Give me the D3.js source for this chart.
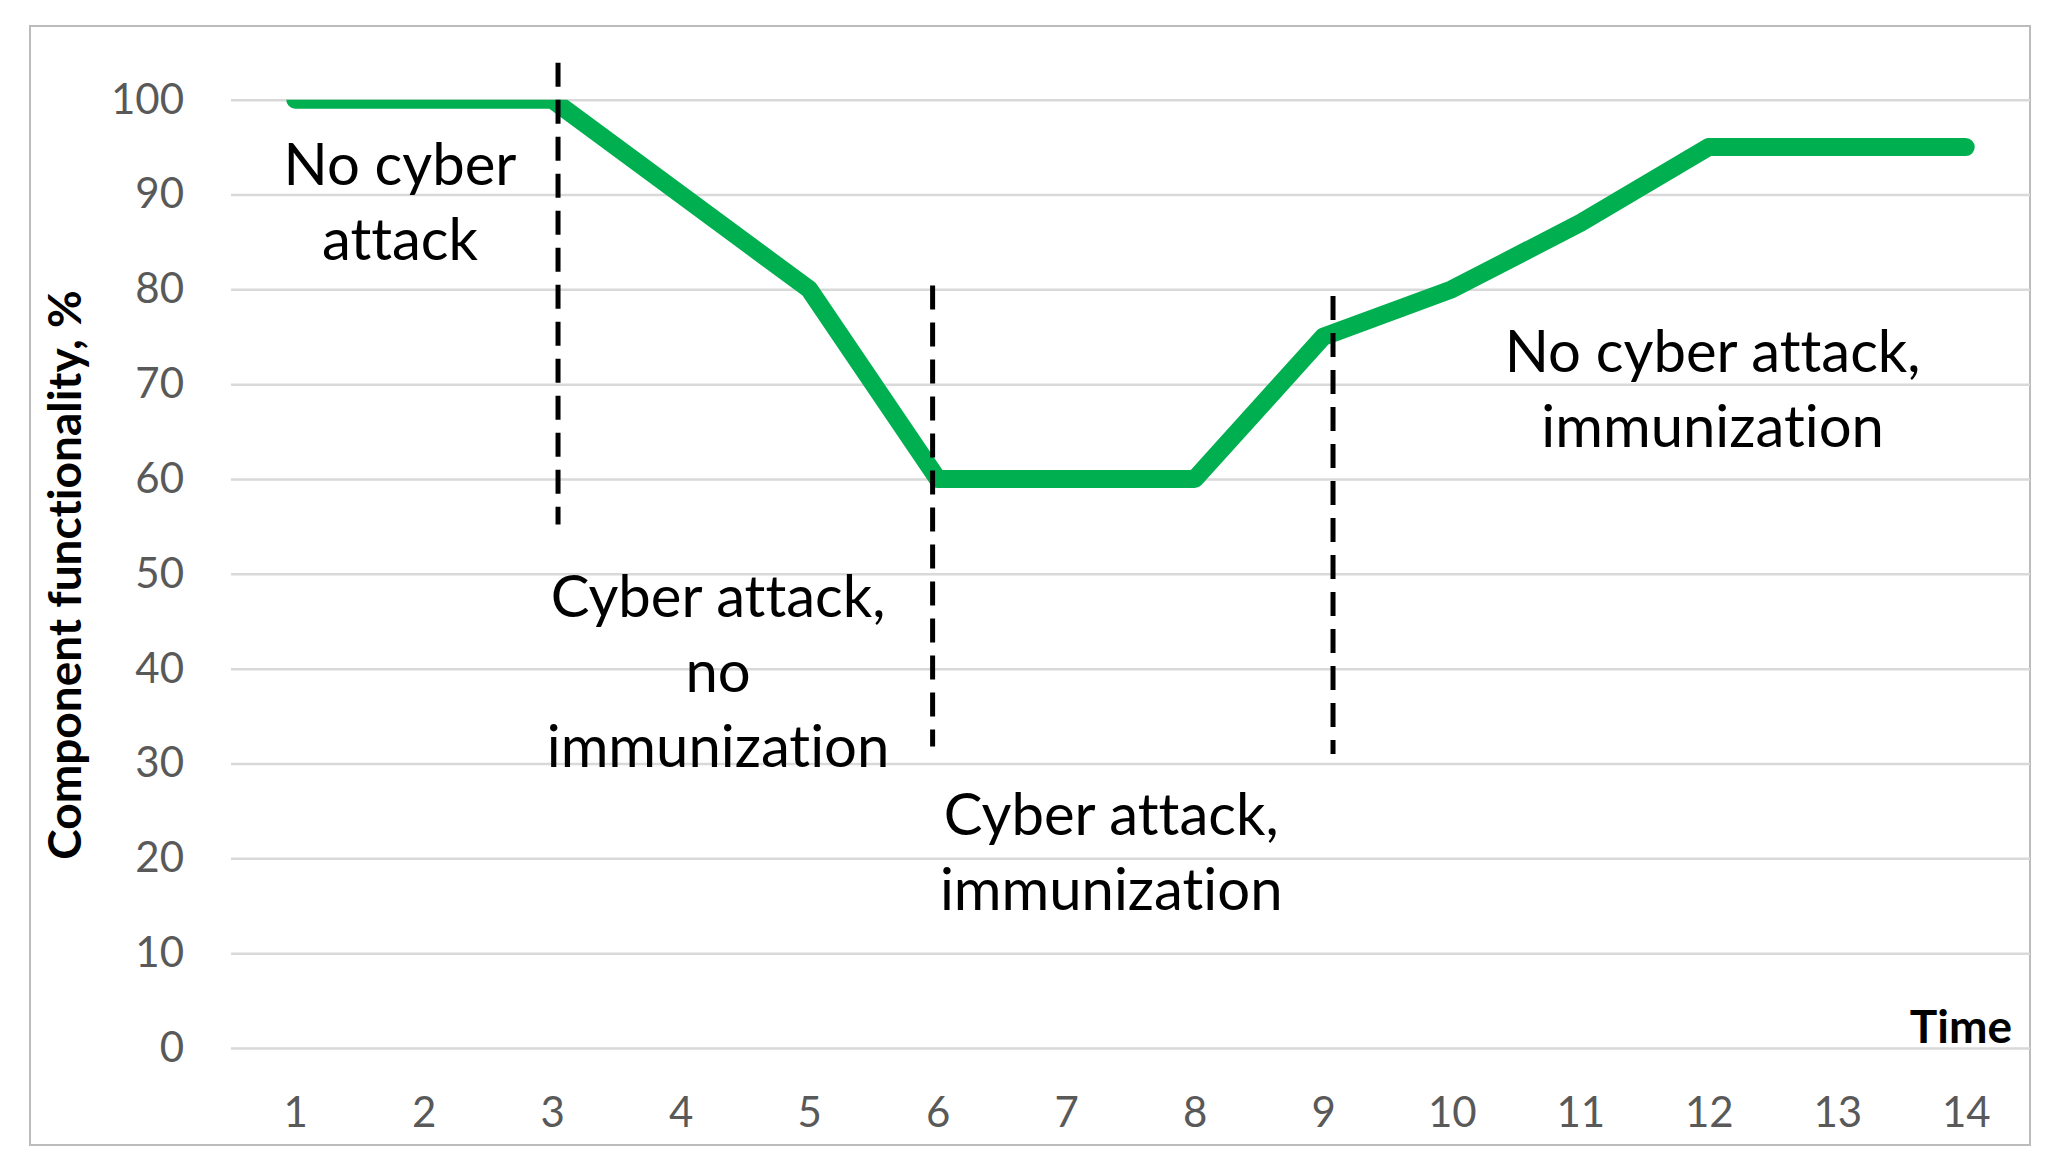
<!DOCTYPE html>
<html>
<head>
<meta charset="utf-8">
<script src="https://cdn.jsdelivr.net/npm/d3@7"></script>
<style>
  body { margin: 0; background: #fff; }
  svg { display: block; font-family: Lato, "Open Sans", sans-serif; font-variant-ligatures: none; }
  .grid line { stroke: #d9d9d9; stroke-width: 2.5; }
  .grid .domain { display: none; }
  .tick text { fill: #595959; }
</style>
</head>
<body>
<div class="chart"></div>
<script>
var w = 2057,
  h = 1171;

// data
var times = [1, 2, 3, 4, 5, 6, 7, 8, 9, 10, 11, 12, 13, 14];
var functionality = [100, 100, 100, 90, 80, 60, 60, 60, 75, 80, 87, 95, 95, 95];
var yTicks = [0, 10, 20, 30, 40, 50, 60, 70, 80, 90, 100];

// phase borders (x in time units, top / bottom in %)
var phaseX = [3.045, 5.96, 9.076];
var phaseTop = [103.9, 80.4, 79.3];
var phaseBottom = [55.2, 31.8, 31.0];

// phase notes: centre in time units, first baseline in %
var noteX = [1.815, 4.29, 7.35, 12.03];
var noteY = [91.0, 45.45, 22.46, 71.29];
var noteLines = [
  ['No cyber', 'attack'],
  ['Cyber attack,', 'no', 'immunization'],
  ['Cyber attack,', 'immunization'],
  ['No cyber attack,', 'immunization']
];

var plot = { left: 231, right: 2030, top: 99.7, bottom: 1048 };

var x = d3.scaleLinear()
  .domain([0.5, 14.5])
  .range([plot.left, plot.right]);

var y = d3.scaleLinear()
  .domain([0, 100])
  .range([plot.bottom, plot.top]);

var svg = d3.select('.chart')
  .append('svg')
  .attr('width', w)
  .attr('height', h);

// outer frame
svg.append('rect')
  .attr('x', 30)
  .attr('y', 26)
  .attr('width', 2000)
  .attr('height', 1119)
  .attr('fill', 'none')
  .attr('stroke', '#bcbcbc')
  .attr('stroke-width', 2);

// gridlines + y labels
var yAxis = svg.append('g')
  .attr('class', 'grid')
  .attr('transform', 'translate(' + plot.left + ',0)')
  .call(d3.axisLeft(y)
    .tickValues(yTicks)
    .tickSize(-(plot.right - plot.left))
    .tickPadding(47));

yAxis.selectAll('text')
  .attr('font-size', 42)
  .attr('font-family', 'Lato');

// x labels
var xAxis = svg.append('g')
  .attr('class', 'grid')
  .attr('transform', 'translate(0,' + plot.bottom + ')')
  .call(d3.axisBottom(x)
    .tickValues(times)
    .tickSize(0));

xAxis.selectAll('text')
  .attr('y', 79)
  .attr('dy', null)
  .attr('font-size', 42)
  .attr('font-family', 'Lato');

// the line is clipped to the plot area, as in the original
svg.append('clipPath')
  .attr('id', 'plotClip')
  .append('rect')
  .attr('x', plot.left)
  .attr('y', plot.top)
  .attr('width', plot.right - plot.left)
  .attr('height', plot.bottom - plot.top);

var line = d3.line()
  .x(function (d, i) { return x(times[i]); })
  .y(function (d) { return y(d); });

svg.append('path')
  .datum(functionality)
  .attr('clip-path', 'url(#plotClip)')
  .attr('d', line)
  .attr('fill', 'none')
  .attr('stroke', '#00b050')
  .attr('stroke-width', 18)
  .attr('stroke-linejoin', 'round')
  .attr('stroke-linecap', 'round');

// dashed phase borders
svg.selectAll('line.phase')
  .data(phaseX)
  .enter()
  .append('line')
  .attr('class', 'phase')
  .attr('x1', function (d) { return x(d); })
  .attr('x2', function (d) { return x(d); })
  .attr('y1', function (d, i) { return y(phaseTop[i]); })
  .attr('y2', function (d, i) { return y(phaseBottom[i]); })
  .attr('stroke', '#000')
  .attr('stroke-width', 5)
  .attr('stroke-dasharray', '24,13');

// phase notes
var notes = svg.selectAll('text.note')
  .data(noteLines)
  .enter()
  .append('text')
  .attr('class', 'note')
  .attr('text-anchor', 'middle')
  .attr('font-size', 58)
  .attr('fill', '#000')
  .attr('y', function (d, i) { return y(noteY[i]); });

notes.selectAll('tspan')
  .data(function (d, i) { return d.map(function (t) { return { t: t, i: i }; }); })
  .enter()
  .append('tspan')
  .attr('x', function (d) { return x(noteX[d.i]); })
  .attr('dy', function (d, j) { return j === 0 ? 0 : 75; })
  .text(function (d) { return d.t; });

// axis titles
svg.append('text')
  .attr('transform', 'translate(81,' + 575 + ') rotate(-90)')
  .attr('text-anchor', 'middle')
  .attr('font-weight', 'bold')
  .attr('font-size', 46)
  .text('Component functionality, %');

svg.append('text')
  .attr('x', 2012)
  .attr('y', 1043)
  .attr('text-anchor', 'end')
  .attr('font-weight', 'bold')
  .attr('font-size', 46)
  .text('Time');
</script>
</body>
</html>
